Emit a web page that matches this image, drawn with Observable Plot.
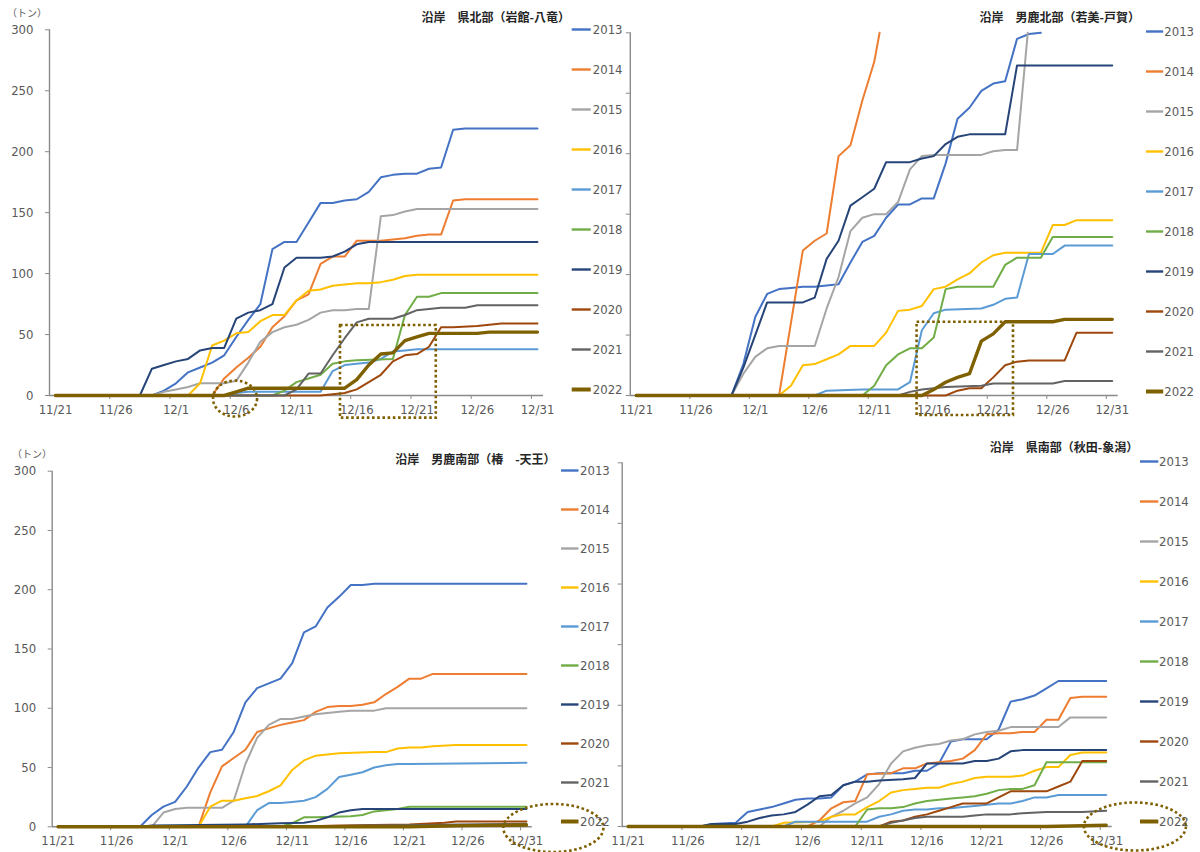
<!DOCTYPE html>
<html>
<head>
<meta charset="utf-8">
<script src="https://cdn.jsdelivr.net/npm/d3@7"></script>
<script src="https://cdn.jsdelivr.net/npm/@observablehq/plot@0.6"></script>
<style>
  body { margin: 0; background: #fff; }
  #chart { position: relative; width: 1200px; height: 852px; background: #fff; overflow: hidden; }
  .ttl { position: absolute; font-family: "Noto Sans CJK JP", sans-serif; font-size: 12px; font-weight: bold; color: #262626; white-space: nowrap; text-align: right; line-height: 16px; }
  .unit { position: absolute; font-family: "Noto Sans CJK JP", sans-serif; font-size: 10px; color: #595959; white-space: nowrap; line-height: 14px; }
</style>
</head>
<body>
<div id="chart"></div>
<script>
// ---------- shared categories ----------
const years = [2013, 2014, 2015, 2016, 2017, 2018, 2019, 2020, 2021, 2022];
const colors = ["#4472C4", "#ED7D31", "#A5A5A5", "#FFC000", "#5B9BD5", "#70AD47", "#264478", "#9E480E", "#636363", "#7F6000"];
const xLabelDays = [0, 5, 10, 15, 20, 25, 30, 35, 40];
const xLabels = ["11/21", "11/26", "12/1", "12/6", "12/11", "12/16", "12/21", "12/26", "12/31"];
const xTickDays = [4.5, 9.5, 14.5, 19.5, 24.5, 29.5, 34.5, 39.5];
const yTicks = [0, 50, 100, 150, 200, 250, 300];
const titles = ["沿岸　県北部（岩館-八竜）", "沿岸　男鹿北部（若美-戸賀）", "沿岸　男鹿南部（椿　-天王）", "沿岸　県南部（秋田-象潟）"];
const unitLabel = "（トン）";

// ---------- 県北部（岩館-八竜）: [day since 11/21, tons] ----------
const tl2013 = [[0,0],[8,0],[9,4],[10,10],[11,19],[12,23],[13,27],[14,33],[15,48],[16,62],[17,75],[18,120],[19,126],[20,126],[21,142],[22,158],[23,158],[24,160],[25,161],[26,167],[27,179],[28,181],[29,182],[30,182],[31,186],[32,187],[33,218],[34,219],[40,219]];
const tl2014 = [[0,0],[13,0],[14,14],[15,23],[16,31],[17,40],[18,56],[19,65],[20,78],[21,83],[22,108],[23,114],[24,114],[25,127],[27,127],[28,128],[29,129],[30,131],[31,132],[32,132],[33,160],[34,161],[40,161]];
const tl2015 = [[0,0],[8,0],[9,3],[10,5],[11,7],[12,10],[14,10],[15,12],[16,27],[17,44],[18,52],[19,56],[20,58],[21,62],[22,68],[23,70],[24,70],[25,71],[26,71],[27,147],[28,148],[29,151],[30,153],[40,153]];
const tl2016 = [[0,0],[11,0],[12,10],[13,41],[14,45],[15,51],[16,52],[17,61],[18,66],[19,66],[20,78],[21,86],[22,87],[23,90],[24,91],[25,92],[26,92],[27,93],[28,95],[29,98],[30,99],[40,99]];
const tl2017 = [[0,0],[14,0],[15,2],[16,3],[22,3],[23,20],[24,25],[25,26],[26,27],[27,30],[28,36],[29,37],[30,38],[40,38]];
const tl2018 = [[0,0],[18,0],[19,4],[20,11],[21,14],[22,17],[23,26],[24,28],[25,29],[28,30],[29,66],[30,81],[31,81],[32,84],[40,84]];
const tl2019 = [[0,0],[7,0],[8,22],[9,25],[10,28],[11,30],[12,37],[13,39],[14,39],[15,63],[16,68],[17,70],[18,75],[19,105],[20,113],[22,113],[23,114],[24,118],[25,124],[26,126],[40,126]];
const tl2020 = [[0,0],[22,0],[23,1],[24,2],[25,5],[26,11],[27,17],[28,28],[29,33],[30,34],[31,40],[32,56],[33,56],[35,57],[36,58],[37,59],[40,59]];
const tl2021 = [[0,0],[19,0],[20,5],[21,18],[22,18],[23,33],[24,47],[25,60],[26,63],[28,63],[29,66],[30,70],[31,71],[32,72],[34,72],[35,74],[40,74]];
const tl2022 = [[0,0],[14,0],[15,3],[16,6],[24,6],[25,13],[26,25],[27,34],[28,35],[29,45],[30,48],[31,51],[35,51],[36,52],[40,52]];

// ---------- 男鹿北部（若美-戸賀）: lines leaving the top end at 300 ----------
const tr2013 = [[0,0],[8,0],[9,26],[10,65],[11,84],[12,88],[13,89],[14,90],[15,90],[16,91],[17,92],[18,110],[19,127],[20,132],[21,147],[22,158],[23,158],[24,163],[25,163],[26,192],[27,229],[28,238],[29,252],[30,258],[31,260],[32,295],[33,299],[34,300]];
const tr2014 = [[0,0],[12,0],[13,60],[14,120],[15,128],[16,134],[17,198],[18,207],[19,244],[20,276],[20.45,300]];
const tr2015 = [[0,0],[8,0],[9,18],[10,32],[11,39],[12,41],[15,41],[16,72],[17,98],[18,136],[19,147],[20,150],[21,150],[22,160],[23,187],[24,198],[25,199],[29,199],[30,202],[31,203],[32,203],[32.9,300]];
const tr2016 = [[0,0],[12,0],[13,8],[14,25],[15,26],[16,30],[17,34],[18,41],[20,41],[21,52],[22,70],[23,71],[24,74],[25,88],[26,90],[27,96],[28,101],[29,110],[30,116],[31,118],[34,118],[35,141],[36,141],[37,145],[40,145]];
const tr2017 = [[0,0],[15,0],[16,4],[19,5],[22,5],[23,11],[24,54],[25,68],[26,71],[29,72],[30,75],[31,80],[32,81],[33,117],[35,117],[36,124],[40,124]];
const tr2018 = [[0,0],[19,0],[20,8],[21,25],[22,34],[23,39],[24,39],[25,48],[26,88],[27,90],[30,90],[31,108],[32,114],[34,114],[35,131],[40,131]];
const tr2019 = [[0,0],[8,0],[9,23],[10,50],[11,77],[14,77],[15,81],[16,113],[17,128],[18,157],[19,164],[20,171],[21,193],[23,193],[24,196],[25,198],[26,208],[27,214],[28,216],[31,216],[32,273],[40,273]];
const tr2020 = [[0,0],[26,0],[27,4],[28,6],[29,6],[30,15],[31,25],[32,28],[33,29],[36,29],[37,52],[40,52]];
const tr2021 = [[0,0],[22,0],[23,3],[24,5],[25,6],[26,7],[29,8],[30,10],[35,10],[36,12],[40,12]];
const tr2022 = [[0,0],[24,0],[25,5],[26,11],[27,15],[28,18],[29,45],[30,51],[31,61],[35,61],[36,63],[40,63]];

// ---------- 男鹿南部（椿-天王） ----------
const bl2013 = [[0,0],[7,0],[8,10],[9,17],[10,21],[11,34],[12,50],[13,63],[14,65],[15,80],[16,105],[17,117],[18,121],[19,125],[20,138],[21,164],[22,169],[23,185],[24,194],[25,204],[26,204],[27,205],[40,205]];
const bl2014 = [[0,0],[12,0],[13,29],[14,51],[15,58],[16,65],[17,80],[18,83],[19,86],[20,88],[21,90],[22,97],[23,101],[24,102],[25,102],[26,103],[27,105],[28,112],[29,118],[30,125],[31,125],[32,129],[40,129]];
const bl2015 = [[0,0],[8,0],[9,12],[10,15],[11,16],[14,16],[15,22],[16,53],[17,75],[18,86],[19,91],[20,91],[21,93],[22,95],[23,96],[24,97],[25,98],[27,98],[28,100],[40,100]];
const bl2016 = [[0,0],[12,0],[13,17],[14,22],[15,22],[16,24],[17,26],[18,30],[19,35],[20,48],[21,56],[22,60],[23,61],[24,62],[27,63],[28,63],[29,66],[30,67],[31,67],[32,68],[34,69],[40,69]];
const bl2017 = [[0,0],[16,0],[17,14],[18,20],[19,20],[20,21],[21,22],[22,25],[23,32],[24,42],[25,44],[26,46],[27,50],[28,52],[29,53],[30,53],[40,54]];
const bl2018 = [[0,0],[19,0],[20,3],[21,8],[22,8],[25,9],[26,10],[27,13],[28,14],[29,15],[30,17],[40,17]];
const bl2019 = [[0,0],[7,0],[8,1],[16,2],[19,3],[21,3.5],[22,5],[23,8],[24,12],[25,14],[26,15],[40,15]];
const bl2020 = [[0,0],[20,0],[24,1],[30,2],[33,3.5],[34,4.5],[40,4.5]];
const bl2021 = [[0,0],[22,0],[26,1],[32,1.5],[34,2],[40,2.5]];
const bl2022 = [[0,0],[30,0],[35,1],[40,1.5]];

// ---------- 県南部（秋田-象潟） ----------
const br2013 = [[0,0],[6,0],[7,2],[9,3],[10,12],[11,14],[12,16],[13,19],[14,22],[15,23],[16,23],[17,24],[18,34],[19,37],[20,43],[21,44],[23,44],[24,46],[25,46],[26,52],[27,70],[28,72],[30,72],[31,80],[32,103],[33,105],[34,108],[35,114],[36,120],[40,120]];
const br2014 = [[0,0],[15,0],[16,5],[17,15],[18,20],[19,21],[20,43],[22,44],[23,48],[24,48],[25,52],[26,53],[27,54],[28,56],[29,63],[30,76],[31,77],[32,77],[33,78],[34,78],[35,88],[36,88],[37,106],[38,107],[40,107]];
const br2015 = [[0,0],[16,0],[17,8],[18,13],[19,19],[20,24],[21,35],[22,52],[23,62],[24,65],[25,67],[26,68],[27,71],[28,72],[29,76],[30,78],[31,79],[32,82],[36,82],[37,90],[40,90]];
const br2016 = [[0,0],[12,0],[13,3],[16,4],[17,8],[18,10],[19,10],[20,16],[21,21],[22,28],[23,30],[24,31],[25,32],[26,32],[27,35],[28,37],[29,40],[30,41],[32,41],[33,42],[34,46],[35,49],[36,49],[37,59],[38,61],[40,61]];
const br2017 = [[0,0],[13,0],[14,4],[20,4],[21,8],[22,10],[23,13],[24,14],[25,14],[26,15],[27,15],[28,16],[29,17],[30,18],[31,19],[32,19],[33,21],[34,24],[35,24],[36,26],[40,26]];
const br2018 = [[0,0],[19,0],[20,14],[21,15],[22,15],[23,16],[24,19],[25,21],[26,22],[27,23],[28,24],[29,25],[30,27],[31,30],[32,31],[33,31],[34,34],[35,53],[40,53]];
const br2019 = [[0,0],[6,0],[7,2],[9,2],[10,4],[11,7],[12,9],[13,10],[14,12],[15,18],[16,25],[17,26],[18,34],[19,37],[20,37],[21,38],[23,39],[24,40],[25,52],[28,52],[29,54],[30,54],[31,56],[32,62],[33,63],[40,63]];
const br2020 = [[0,0],[21,0],[22,4],[23,5],[24,8],[25,10],[26,13],[27,16],[28,19],[30,19],[31,24],[32,29],[35,29],[36,33],[37,37],[38,54],[40,54]];
const br2021 = [[0,0],[21,0],[22,3],[23,5],[24,7],[25,8],[28,8],[29,9],[30,10],[32,10],[33,11],[35,12],[38,12],[40,13]];
const br2022 = [[0,0],[35,0],[40,1]];

// ---------- annotations (data coordinates) ----------
const tlRects = [{x1: 23.65, x2: 31.6, y1: -18.6, y2: 57.4}];
const tlEllipses = [{day: 14.9, value: -2.5, rx: 22, ry: 18}];
const trRects = [{x1: 23.6, x2: 31.7, y1: -16.5, y2: 60.6}];
const blEllipses = [{day: 42.3, value: -1, rx: 50, ry: 24}];
const brEllipses = [{day: 42.4, value: 0, rx: 51, ry: 24}];

// ---------- rendering ----------
const axisColor = "#8a8a8a";
const textColor = "#595959";
const annColor = "#7F6000";
const numFont = "'Liberation Sans Narrow', 'Arial Narrow', 'DejaVu Sans Condensed', 'Liberation Sans', sans-serif";

function ellipseSymbol(aspect) {
  return {
    draw(ctx, size) {
      const ry = Math.sqrt(size / Math.PI), rx = ry * aspect, k = 0.5523;
      ctx.moveTo(rx, 0);
      ctx.bezierCurveTo(rx, ry * k, rx * k, ry, 0, ry);
      ctx.bezierCurveTo(-rx * k, ry, -rx, ry * k, -rx, 0);
      ctx.bezierCurveTo(-rx, -ry * k, -rx * k, -ry, 0, -ry);
      ctx.bezierCurveTo(rx * k, -ry, rx, -ry * k, rx, 0);
      ctx.closePath();
    }
  };
}

const root = document.getElementById("chart");

function place(el, left, top) {
  el.style.position = "absolute";
  el.style.left = left + "px";
  el.style.top = top + "px";
  el.style.maxWidth = "none";
  root.appendChild(el);
}

function panel(cfg) {
  const {series, left, top, width, height, ml, mr, mt, mb, yLabels, rects = [], ellipses = []} = cfg;
  const marks = [
    Plot.axisY({ticks: yTicks, tickSize: 4, tickPadding: 12, tickFormat: yLabels ? (d) => String(d) : () => "", stroke: axisColor, fill: textColor, fontSize: 13, label: null}),
    Plot.axisX({ticks: xTickDays, tickSize: 4, tickFormat: () => "", stroke: axisColor, label: null}),
    Plot.axisX({ticks: xLabelDays, tickSize: 0, tickPadding: 9, tickFormat: (d) => xLabels[xLabelDays.indexOf(d)], fill: textColor, fontSize: 13, label: null}),
    Plot.ruleX([-0.5], {stroke: axisColor, strokeWidth: 1.4}),
    Plot.ruleY([0], {stroke: axisColor, strokeWidth: 1.4}),
    ...series.map((s, i) => Plot.line(s, {x: (d) => d[0], y: (d) => d[1], stroke: colors[i], strokeWidth: i === 9 ? 3.4 : 2, strokeLinejoin: "round", strokeLinecap: "round"})),
    ...rects.map((r) => Plot.rect([r], {x1: "x1", x2: "x2", y1: "y1", y2: "y2", fill: "none", stroke: annColor, strokeWidth: 2.6, strokeDasharray: "2.6 2.6"})),
    ...ellipses.map((e) => Plot.dot([e], {x: "day", y: "value", r: e.ry, symbol: ellipseSymbol(e.rx / e.ry), fill: "none", stroke: annColor, strokeWidth: 2.6, strokeDasharray: "2.6 2.6"}))
  ];
  const svg = Plot.plot({
    width, height,
    marginLeft: ml, marginRight: mr, marginTop: mt, marginBottom: mb,
    x: {domain: [-0.5, 40.5]},
    y: {domain: [0, 300]},
    style: {background: "transparent", overflow: "visible", fontFamily: numFont, fontSize: "13px", color: textColor},
    marks
  });
  place(svg, left, top);
}

function legend(cfg) {
  const {left, top, height, y0, y1, x1, x2, tx} = cfg;
  const svg = Plot.plot({
    width: 62, height,
    marginLeft: 0, marginRight: 0, marginTop: 0, marginBottom: 0,
    x: {domain: [0, 62], range: [0, 62], axis: null},
    y: {type: "point", domain: years, range: [y0, y1], padding: 0, axis: null},
    color: {type: "ordinal", domain: years, range: colors},
    style: {background: "transparent", overflow: "visible", fontFamily: numFont, fontSize: "13px", color: textColor},
    marks: [
      Plot.ruleY(years.slice(0, 9), {y: (d) => d, x1: x1, x2: x2, stroke: (d) => d, strokeWidth: 2.4}),
      Plot.ruleY(years.slice(9), {y: (d) => d, x1: x1, x2: x2, stroke: (d) => d, strokeWidth: 4}),
      Plot.text(years, {y: (d) => d, x: tx, text: (d) => String(d), textAnchor: "start", fill: textColor, fontSize: 13})
    ]
  });
  place(svg, left, top);
}

function label(text, cls, left, top, width) {
  const d = document.createElement("div");
  d.className = cls;
  d.textContent = text;
  d.style.left = left + "px";
  d.style.top = top + "px";
  if (width) d.style.width = width + "px";
  root.appendChild(d);
}

panel({series: [tl2013, tl2014, tl2015, tl2016, tl2017, tl2018, tl2019, tl2020, tl2021, tl2022],
  left: 0, top: 0, width: 560, height: 425, ml: 49, mr: 17, mt: 29.3, mb: 30, yLabels: true,
  rects: tlRects, ellipses: tlEllipses});
panel({series: [tr2013, tr2014, tr2015, tr2016, tr2017, tr2018, tr2019, tr2020, tr2021, tr2022],
  left: 600, top: 0, width: 530, height: 425, ml: 29.8, mr: 12.3, mt: 32.3, mb: 30, yLabels: false,
  rects: trRects});
panel({series: [bl2013, bl2014, bl2015, bl2016, bl2017, bl2018, bl2019, bl2020, bl2021, bl2022],
  left: 0, top: 430, width: 610, height: 422, ml: 51.7, mr: 78.2, mt: 40.7, mb: 25.7, yLabels: true,
  ellipses: blEllipses});
panel({series: [br2013, br2014, br2015, br2016, br2017, br2018, br2019, br2020, br2021, br2022],
  left: 600, top: 430, width: 600, height: 422, ml: 21.7, mr: 88.3, mt: 32.3, mb: 26, yLabels: false,
  ellipses: brEllipses});

legend({left: 571, top: 0, height: 425, y0: 25.5, y1: 391.7, x1: 0.7, x2: 19.7, tx: 21.3});
legend({left: 1145, top: 0, height: 425, y0: 29.3, y1: 392.3, x1: 1, x2: 18.2, tx: 18.8});
legend({left: 560, top: 430, height: 422, y0: 36.7, y1: 394, x1: 1, x2: 18.5, tx: 19.5});
legend({left: 1139, top: 430, height: 422, y0: 29.3, y1: 393.3, x1: 1, x2: 19.3, tx: 19.5});

label(titles[0], "ttl", 0, 8.7, 570);
label(titles[1], "ttl", 600, 8.7, 540);
label(titles[2], "ttl", 0, 451.3, 555.6);
label(titles[3], "ttl", 600, 439.3, 538.3);
label(unitLabel, "unit", 7, 6);
label(unitLabel, "unit", 12, 447);
</script>
</body>
</html>
